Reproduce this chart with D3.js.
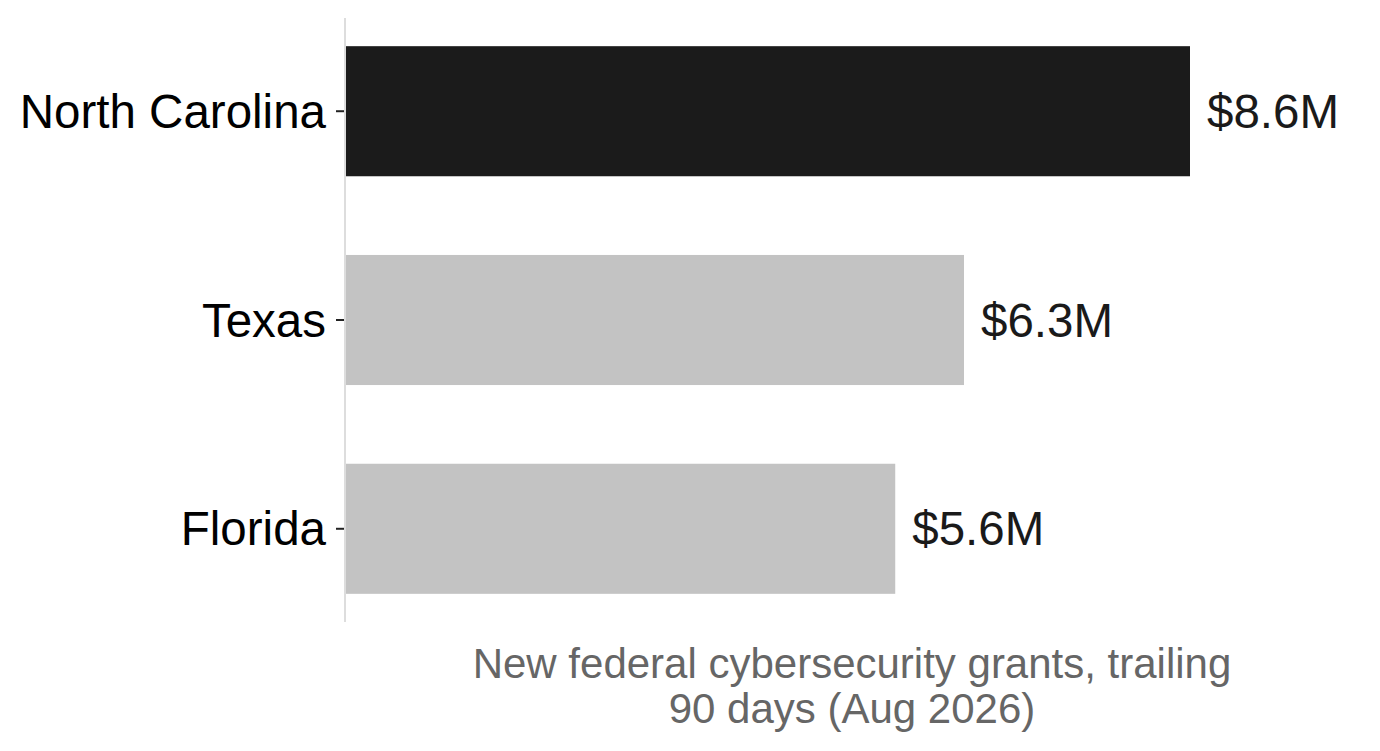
<!DOCTYPE html>
<html><head><meta charset="utf-8">
<script src="https://cdn.jsdelivr.net/npm/d3@7"></script>
<style>body{margin:0;background:#fff}svg{display:block}text{font-family:"Liberation Sans",Arial,Helvetica,sans-serif}</style>
</head><body>
<svg id="c" width="1380" height="751"></svg>
<script>
const categories = ["North Carolina", "Texas", "Florida"];
const values = [8.6, 6.3, 5.6];
const labels = ["$8.6M", "$6.3M", "$5.6M"];
const highlight = ["North Carolina"];
const axisTitle = ["New federal cybersecurity grants, trailing", "90 days (Aug 2026)"];

const svg = d3.select("#c");
const m = {left: 345, right: 21, top: 18, bottom: 129};
const W = 1380, H = 751;
const x = d3.scaleLinear().domain([0, d3.max(values) * 1.2]).range([m.left, W - m.right]);
const y = d3.scaleBand().domain(categories).range([m.top, H - m.bottom]).paddingInner(0.377).paddingOuter(0.135);

const data = categories.map((c, i) => ({c, v: values[i], l: labels[i]}));

svg.selectAll("rect.bar").data(data).join("rect")
  .attr("class", "bar")
  .attr("x", x(0) + 1)
  .attr("y", d => y(d.c))
  .attr("width", d => x(d.v) - x(0) - 1)
  .attr("height", y.bandwidth())
  .attr("fill", d => highlight.includes(d.c) ? "#1b1b1b" : "#c3c3c3");

// axis line
svg.append("line").attr("x1", x(0)).attr("x2", x(0)).attr("y1", m.top).attr("y2", H - m.bottom)
  .attr("stroke", "#dddddd").attr("stroke-width", 2);

const ya = svg.append("g").attr("transform", `translate(${x(0) - 1},0)`)
  .call(d3.axisLeft(y).tickSize(8).tickPadding(10));
ya.select(".domain").remove();
ya.selectAll(".tick line").attr("stroke", "#222").attr("stroke-width", 2);
ya.selectAll(".tick text").attr("fill", "#000").style("font-size", "47.5px").attr("dy", "0.35em");

svg.selectAll("text.val").data(data).join("text")
  .attr("class", "val")
  .attr("x", d => x(d.v) + 17)
  .attr("y", d => y(d.c) + y.bandwidth() / 2)
  .attr("dy", "0.35em")
  .attr("fill", "#1a1a1a")
  .style("font-size", "47.5px")
  .text(d => d.l);

const cx = (x.range()[0] + x.range()[1]) / 2;
svg.append("text").attr("x", cx).attr("y", 678).attr("text-anchor", "middle")
  .attr("fill", "#666").style("font-size", "42px")
  .selectAll("tspan").data(axisTitle).join("tspan")
  .attr("x", cx).attr("dy", (d, i) => i ? "1.07em" : 0).text(d => d);
</script>
</body></html>
